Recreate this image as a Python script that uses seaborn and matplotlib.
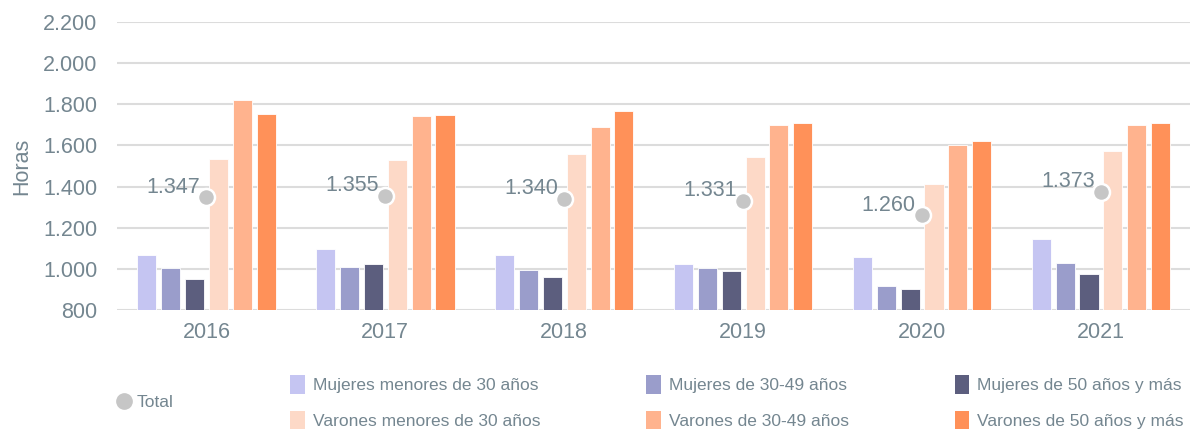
import pandas as pd
import matplotlib.pyplot as plt
import seaborn as sns
from matplotlib.lines import Line2D
from matplotlib.patches import Patch
from matplotlib.ticker import FuncFormatter

years = ["2016", "2017", "2018", "2019", "2020", "2021"]
groups = [
    "Mujeres menores de 30 años",
    "Mujeres de 30-49 años",
    "Mujeres de 50 años y más",
    "Varones menores de 30 años",
    "Varones de 30-49 años",
    "Varones de 50 años y más",
]
muj_menores_30 = [1066, 1098, 1067, 1025, 1056, 1144]
muj_30_49 = [1003, 1007, 996, 1003, 917, 1030]
muj_50_mas = [949, 1025, 959, 990, 902, 975]
var_menores_30 = [1534, 1529, 1558, 1542, 1413, 1575]
var_30_49 = [1819, 1743, 1690, 1701, 1601, 1698]
var_50_mas = [1753, 1748, 1766, 1709, 1623, 1709]
total = [1347, 1355, 1340, 1331, 1260, 1373]

colors = ["#C5C5F2", "#9A9DCB", "#5C5E7E", "#FDD9C7", "#FFB38E", "#FF9159"]
text_col = "#748690"

series = [muj_menores_30, muj_30_49, muj_50_mas, var_menores_30, var_30_49, var_50_mas]
rows = []
for g, vals in zip(groups, series):
    for y, v in zip(years, vals):
        rows.append({"year": y, "grupo": g, "horas": v})
df = pd.DataFrame(rows)
df_tot = pd.DataFrame({"year": years, "total": total})

sns.set_style("white")
plt.rcParams["font.family"] = ["Liberation Sans", "DejaVu Sans"]

fig, ax = plt.subplots(figsize=(11.94, 4.34), dpi=100)
fig.subplots_adjust(left=0.098, right=0.997, bottom=0.286, top=0.949)

sns.barplot(data=df, x="year", y="horas", hue="grupo", hue_order=groups,
            palette=colors, saturation=1, width=0.8, gap=0.2, ax=ax, legend=False,
            edgecolor="white", linewidth=0.6, zorder=2)
sns.scatterplot(data=df_tot, x="year", y="total", ax=ax, s=150,
                color="#C6C6C6", edgecolor="white", linewidth=1.8, zorder=5,
                legend=False)

for i, v in enumerate(total):
    ax.text(i - 0.035, v + 50, f"{v:,}".replace(",", "."), ha="right", va="center",
            fontsize=15.5, color=text_col, zorder=6)

ax.set_ylim(800, 2200)
ax.set_xlim(-0.5, 5.5)
ax.set_yticks(range(800, 2201, 200))
ax.yaxis.set_major_formatter(FuncFormatter(lambda v, p: f"{int(v):,}".replace(",", ".")))
ax.grid(axis="y", color="#DCDCDC", linewidth=1.5, zorder=0)
ax.set_axisbelow(True)
for s in ax.spines.values():
    s.set_visible(False)
ax.tick_params(axis="both", length=0, labelsize=15.5, colors=text_col)
ax.tick_params(axis="y", pad=14)
ax.tick_params(axis="x", pad=9)
ax.set_xlabel("")
ax.set_ylabel("Horas", fontsize=15.5, color=text_col, labelpad=8)

tot_handle = [Line2D([0], [0], marker="o", linestyle="", markersize=11,
                     markerfacecolor="#C6C6C6", markeredgecolor="#C6C6C6")]
fig.legend(tot_handle, ["Total"], loc="center left", bbox_to_anchor=(0.082, 0.073),
           frameon=False, fontsize=12.5, labelcolor=text_col, handletextpad=0.15,
           handlelength=1.2)

order = [0, 3, 1, 4, 2, 5]
handles = [Patch(facecolor=colors[k], edgecolor="none") for k in order]
labels = [groups[k] for k in order]
fig.legend(handles, labels, ncol=3, loc="center left", bbox_to_anchor=(0.230, 0.073),
           frameon=False, fontsize=12.5, labelcolor=text_col, handlelength=0.85,
           handleheight=1.3, handletextpad=0.45, columnspacing=6.1, labelspacing=0.95)

fig.savefig("out.png", dpi=100)
